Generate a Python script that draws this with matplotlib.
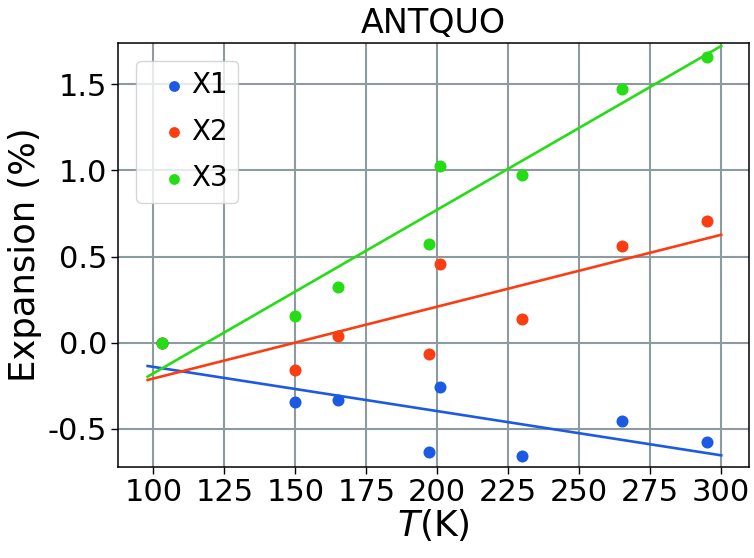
import numpy as np
import matplotlib
matplotlib.use('Agg')
import matplotlib.pyplot as plt

# Temperatures (K) and expansion (%) along the three principal axes
T = [103, 150, 165, 197, 201, 230, 265, 295]
X1 = [0.0, -0.342, -0.334, -0.634, -0.257, -0.655, -0.455, -0.575]
X2 = [0.0, -0.158, 0.041, -0.064, 0.456, 0.137, 0.563, 0.704]
X3 = [0.0, 0.157, 0.321, 0.571, 1.025, 0.975, 1.470, 1.659]

# Linear fits, given by their end points
fit_T = [98, 300]
fit_X1 = [-0.135, -0.653]
fit_X2 = [-0.216, 0.626]
fit_X3 = [-0.197, 1.721]

labels = ['X1', 'X2', 'X3']
colors = ['#1c5ae4', '#fb3d12', '#25dd15']

plt.rcParams['font.family'] = ['DejaVu Sans']
plt.rcParams['mathtext.fontset'] = 'dejavusans'
plt.rcParams['axes.unicode_minus'] = False


def main():
    fig = plt.figure(figsize=(7.54, 5.58), dpi=100)
    ax = fig.add_axes([0.157, 0.1636, 0.8364, 0.7599])

    series = [X1, X2, X3]
    fits = [fit_X1, fit_X2, fit_X3]
    for y, f, lab, c in zip(series, fits, labels, colors):
        ax.scatter(T, y, s=75, color=c, label=lab, zorder=3, linewidths=0)
        ax.plot(fit_T, f, color=c, lw=1.9, zorder=2)

    ax.set_xlim(87.7, 309.8)
    ax.set_ylim(-0.719, 1.74)
    ax.set_xticks(np.arange(100, 301, 25))
    ax.set_yticks(np.arange(-0.5, 1.51, 0.5))

    ax.grid(True, color='#8c9b9f', lw=1.5, zorder=0)
    ax.set_axisbelow(True)
    for s in ax.spines.values():
        s.set_linewidth(1.1)
        s.set_color('black')
    ax.tick_params(labelsize=22, length=5, width=1.0, direction='out', pad=3)

    ax.set_title('ANTQUO', fontsize=24, pad=7)
    ax.set_xlabel(r'$T$(K)', fontsize=26, labelpad=0)
    ax.set_ylabel('Expansion (%)', fontsize=25.5, labelpad=4)

    ax.legend(loc='upper left', fontsize=20, borderaxespad=0.65, borderpad=0.38,
              handlelength=1.94, handletextpad=-0.36, labelspacing=0.66,
              markerscale=0.9, scatterpoints=1)

    fig.savefig('out.png', dpi=100)


if __name__ == '__main__':
    main()
